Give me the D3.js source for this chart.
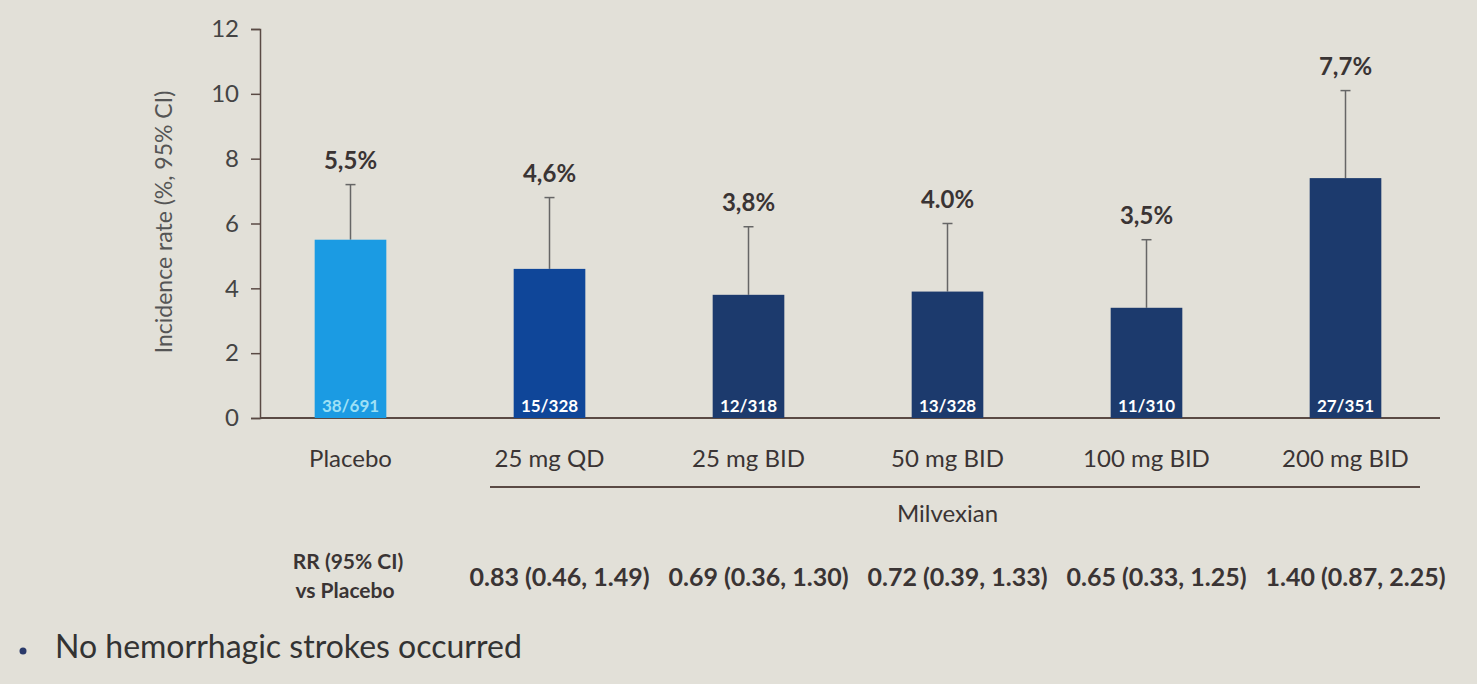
<!DOCTYPE html>
<html>
<head>
<meta charset="utf-8">
<script src="https://cdn.jsdelivr.net/npm/d3@7"></script>
<style>
  html, body { margin: 0; padding: 0; background: #e2e0d8; }
  svg { display: block; font-family: Lato, "Open Sans", sans-serif; }
</style>
</head>
<body>
<div id="chart"></div>
<script>
// ── Data ──────────────────────────────────────────────────────────────
const groups    = ['Placebo', '25 mg QD', '25 mg BID', '50 mg BID', '100 mg BID', '200 mg BID'];
const rates     = [5.5, 4.6, 3.8, 3.9, 3.4, 7.4];       // bar heights as drawn
const ciUpper   = [7.2, 6.8, 5.9, 6.0, 5.5, 10.1];
const rateText  = ['5,5%', '4,6%', '3,8%', '4.0%', '3,5%', '7,7%'];
const events    = ['38/691', '15/328', '12/318', '13/328', '11/310', '27/351'];
const rrText    = ['', '0.83 (0.46, 1.49)', '0.69 (0.36, 1.30)', '0.72 (0.39, 1.33)', '0.65 (0.33, 1.25)', '1.40 (0.87, 2.25)'];
const barColors = ['#1b9be3', '#0f4699', '#1c3a6d', '#1c3a6d', '#1c3a6d', '#1c3a6d'];
const yTicks    = [0, 2, 4, 6, 8, 10, 12];

const W = 1477, H = 684;
const ink = '#3a3434';
const svg = d3.select('#chart').append('svg').attr('width', W).attr('height', H);

// ── Scales ────────────────────────────────────────────────────────────
const x = d3.scaleBand().domain(groups).range([251, 1445]).paddingInner(0.64).paddingOuter(0.32);
const y = d3.scaleLinear().domain([0, 12]).range([418, 29]);

// ── Y axis ────────────────────────────────────────────────────────────
const yAxis = svg.append('g')
  .attr('transform', 'translate(260,0)')
  .call(d3.axisLeft(y).tickValues(yTicks).tickSize(9).tickPadding(12));
yAxis.select('.domain').attr('stroke', '#5a4a44').attr('stroke-width', 1.5);
yAxis.selectAll('.tick line').attr('stroke', '#5a4a44').attr('stroke-width', 1.5);
yAxis.selectAll('.tick text')
  .attr('font-size', 24).attr('fill', '#444').style('font-family', 'Lato, sans-serif');

svg.append('text')
  .attr('transform', 'translate(172,222) rotate(-90)')
  .attr('text-anchor', 'middle')
  .attr('font-size', 23).attr('fill', '#555')
  .text('Incidence rate (%, 95% CI)');

// ── X axis line ───────────────────────────────────────────────────────
svg.append('line')
  .attr('x1', 260).attr('x2', 1440).attr('y1', y(0)).attr('y2', y(0))
  .attr('stroke', '#5a4a44').attr('stroke-width', 2);

// ── Error bars (upper only) ───────────────────────────────────────────
const cx = d => x(d) + x.bandwidth() / 2;
const err = svg.append('g');
groups.forEach((g, i) => {
  err.append('line')
    .attr('x1', cx(g)).attr('x2', cx(g))
    .attr('y1', y(rates[i])).attr('y2', y(ciUpper[i]))
    .attr('stroke', '#666').attr('stroke-width', 1.5);
  err.append('line')
    .attr('x1', cx(g) - 5).attr('x2', cx(g) + 5)
    .attr('y1', y(ciUpper[i])).attr('y2', y(ciUpper[i]))
    .attr('stroke', '#666').attr('stroke-width', 1.5);
});

// ── Bars ──────────────────────────────────────────────────────────────
svg.append('g').selectAll('rect')
  .data(groups)
  .join('rect')
    .attr('x', d => x(d))
    .attr('y', (d, i) => y(rates[i]))
    .attr('width', x.bandwidth())
    .attr('height', (d, i) => y(0) - y(rates[i]))
    .attr('fill', (d, i) => barColors[i]);

// event counts inside bars
svg.append('g').selectAll('text')
  .data(groups)
  .join('text')
    .attr('x', d => cx(d))
    .attr('y', y(0) - 6)
    .attr('text-anchor', 'middle')
    .attr('font-size', 17).attr('font-weight', 'bold')
    .attr('fill', (d, i) => i === 0 ? '#9ee0f5' : '#ffffff')
    .text((d, i) => events[i]);

// rate labels above error bars
svg.append('g').selectAll('text')
  .data(groups)
  .join('text')
    .attr('x', d => cx(d))
    .attr('y', (d, i) => y(ciUpper[i]) - 16)
    .attr('text-anchor', 'middle')
    .attr('font-size', 24).attr('font-weight', 'bold')
    .attr('fill', ink)
    .text((d, i) => rateText[i]);

// ── Category labels ───────────────────────────────────────────────────
svg.append('g').selectAll('text')
  .data(groups)
  .join('text')
    .attr('x', d => cx(d))
    .attr('y', 467)
    .attr('text-anchor', 'middle')
    .attr('font-size', 24).attr('fill', ink)
    .text(d => d);

// Milvexian bracket
svg.append('line')
  .attr('x1', 490).attr('x2', 1420).attr('y1', 487).attr('y2', 487)
  .attr('stroke', '#5a4a44').attr('stroke-width', 2);
svg.append('text')
  .attr('x', (cx(groups[1]) + cx(groups[5])) / 2).attr('y', 522)
  .attr('text-anchor', 'middle')
  .attr('font-size', 24).attr('fill', ink)
  .text('Milvexian');

// ── RR row ────────────────────────────────────────────────────────────
const rrLabel = svg.append('text')
  .attr('text-anchor', 'middle')
  .attr('font-size', 21).attr('font-weight', 'bold').attr('fill', ink);
rrLabel.append('tspan').attr('x', 348).attr('y', 569).text('RR (95% CI)');
rrLabel.append('tspan').attr('x', 345).attr('y', 598).text('vs Placebo');

svg.append('g').selectAll('text')
  .data(groups.slice(1))
  .join('text')
    .attr('x', d => cx(d) + 10)
    .attr('y', 586)
    .attr('text-anchor', 'middle')
    .attr('font-size', 25).attr('font-weight', 'bold').attr('fill', ink)
    .text((d, i) => rrText[i + 1]);

// ── Footnote bullet ───────────────────────────────────────────────────
svg.append('circle').attr('cx', 23).attr('cy', 651).attr('r', 3.5).attr('fill', '#2a3a6a');
svg.append('text')
  .attr('x', 55).attr('y', 658)
  .attr('font-size', 32).attr('fill', '#333')
  .text('No hemorrhagic strokes occurred');
</script>
</body>
</html>
